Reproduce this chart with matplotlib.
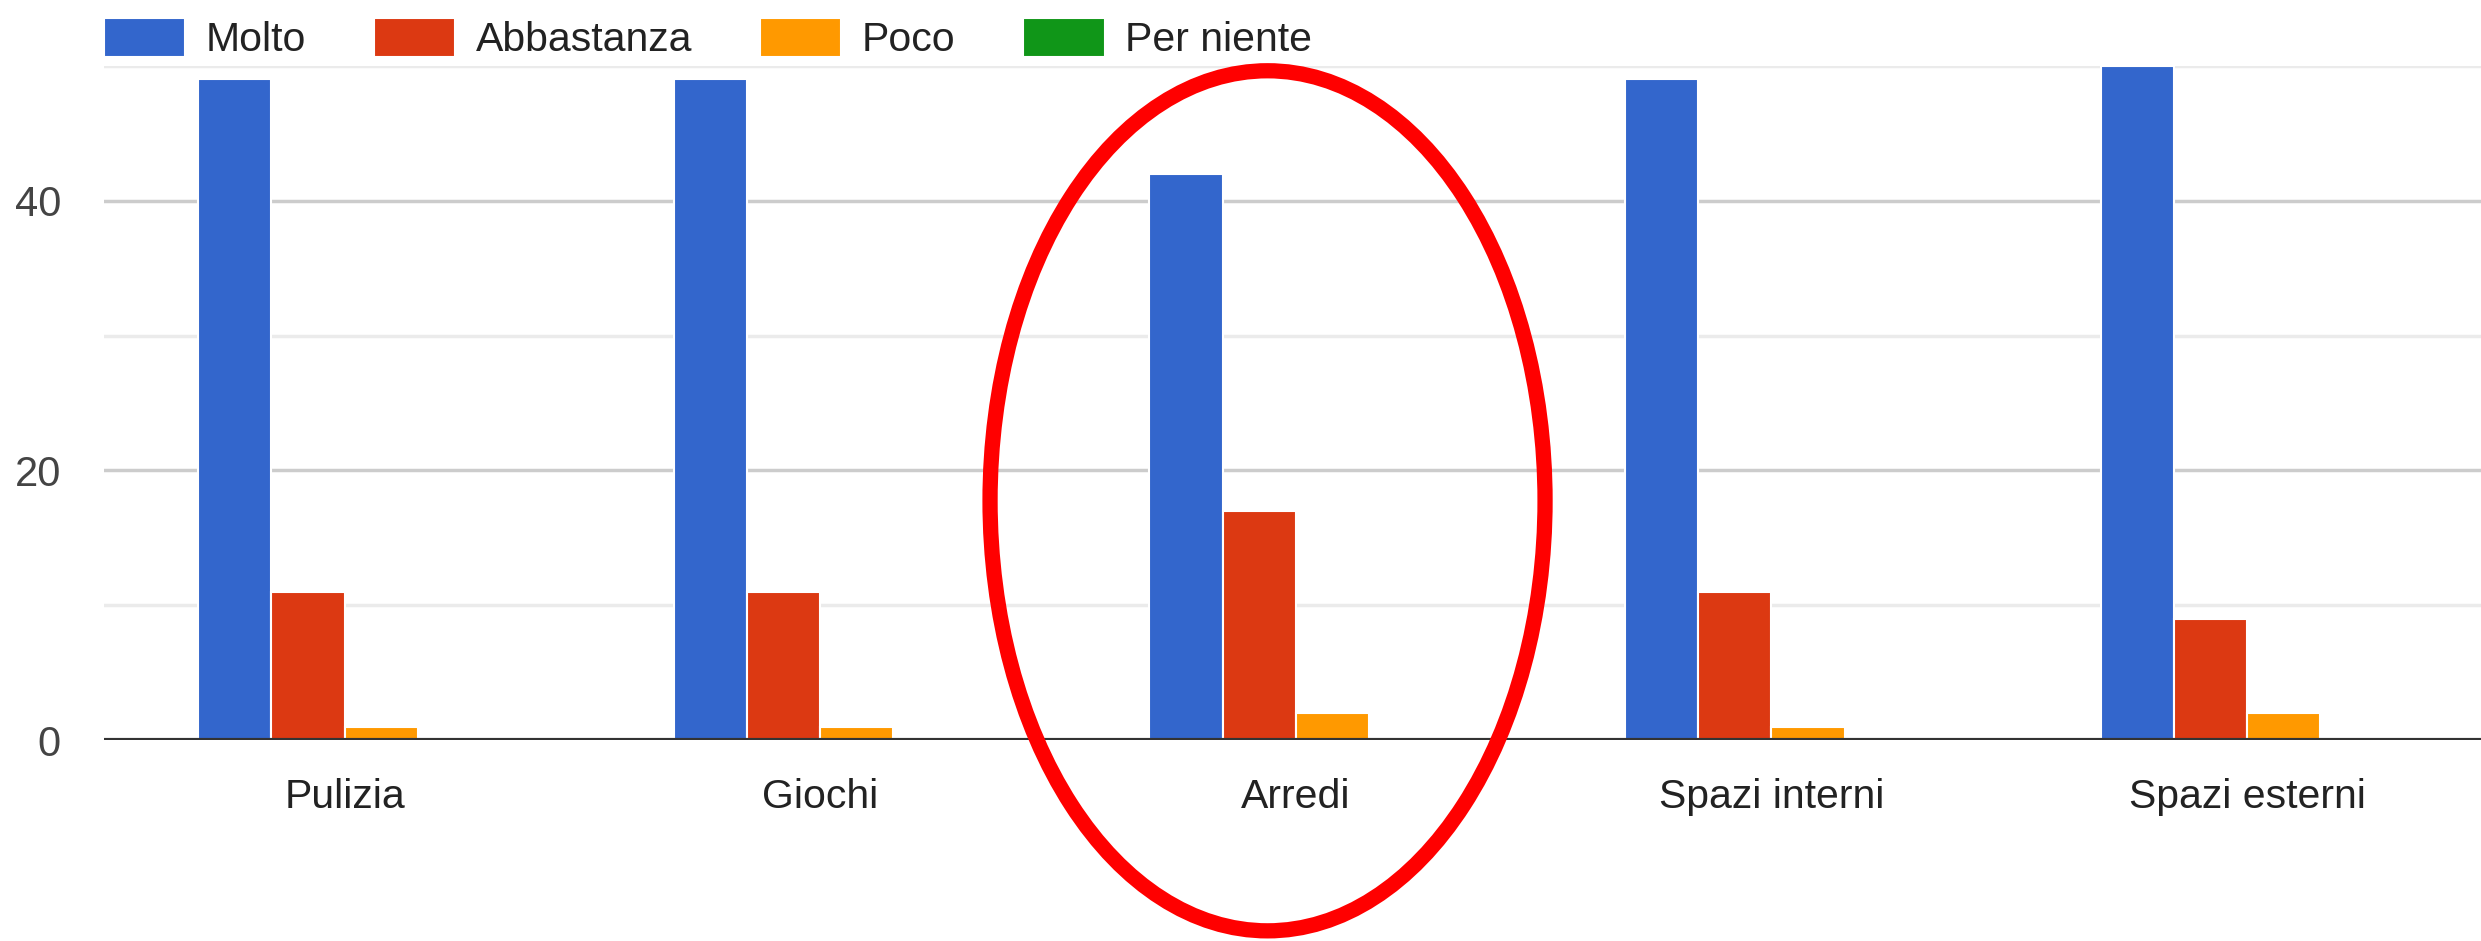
import matplotlib
matplotlib.use('Agg')
import matplotlib.pyplot as plt
from matplotlib.patches import Ellipse
import numpy as np

categories = ['Pulizia', 'Giochi', 'Arredi', 'Spazi interni', 'Spazi esterni']
series_names = ['Molto', 'Abbastanza', 'Poco', 'Per niente']
molto = [49, 49, 42, 49, 50]
abbastanza = [11, 11, 17, 11, 9]
poco = [1, 1, 2, 1, 2]
per_niente = [0, 0, 0, 0, 0]
colors = ['#3366CC', '#DC3912', '#FF9900', '#109618']

plt.rcParams['font.family'] = ['Liberation Sans', 'DejaVu Sans']

W, H = 2481, 941
fig = plt.figure(figsize=(W / 100, H / 100), dpi=100)
ax = fig.add_axes([0.0419, 0.2136, 0.9581, 0.7163])

x = np.arange(len(categories))
w = 0.154
values = [molto, abbastanza, poco, per_niente]
handles = []
for i, (name, vals, c) in enumerate(zip(series_names, values, colors)):
    b = ax.bar(x + (i - 1.5) * w, vals, width=w, color=c, edgecolor='white',
               linewidth=1.5, label=name, zorder=3)
    handles.append(b)

ax.set_xlim(-0.506, 4.492)
ax.set_ylim(0, 50)
ax.set_yticks([0, 20, 40])
ax.set_yticks([10, 30, 50], minor=True)
ax.grid(axis='y', which='major', color='#CCCCCC', linewidth=2.5, zorder=0)
ax.grid(axis='y', which='minor', color='#EBEBEB', linewidth=2.5, zorder=0)
ax.axhline(0, color='#333333', linewidth=3, zorder=4)

for s in ax.spines.values():
    s.set_visible(False)
ax.tick_params(axis='both', which='both', length=0)
ax.tick_params(axis='y', labelsize=30, labelcolor='#444444', pad=31)
ax.tick_params(axis='x', labelsize=29.5, labelcolor='#222222', pad=27)
ax.set_xticks(x)
ax.set_xticklabels(categories)

anchor = [0.0419, 0.960]
leg = fig.legend(handles=handles, labels=series_names, loc='center left',
                 bbox_to_anchor=anchor, ncol=4, frameon=False,
                 fontsize=29.5, handlelength=1.98, handleheight=1.1,
                 handletextpad=0.5, columnspacing=1.66, borderpad=0,
                 borderaxespad=0)
for t in leg.get_texts():
    t.set_color('#222222')

# line the first legend swatch up with the left end of the gridlines
fig.canvas.draw()
bb = leg.legend_handles[0].get_window_extent()
dx = 104 - bb.x0
dy = (H - 37.5) - (bb.y0 + bb.y1) / 2
leg.set_bbox_to_anchor((anchor[0] + dx / W, anchor[1] + dy / H),
                       transform=fig.transFigure)

# red circle annotation around "Arredi"
ell = Ellipse((0.5109, 0.4678), 0.2237, 0.914, transform=fig.transFigure,
              fill=False, edgecolor='#FF0000', linewidth=11, zorder=10)
fig.patches.append(ell)

fig.savefig('out.png', dpi=100, facecolor='white')
